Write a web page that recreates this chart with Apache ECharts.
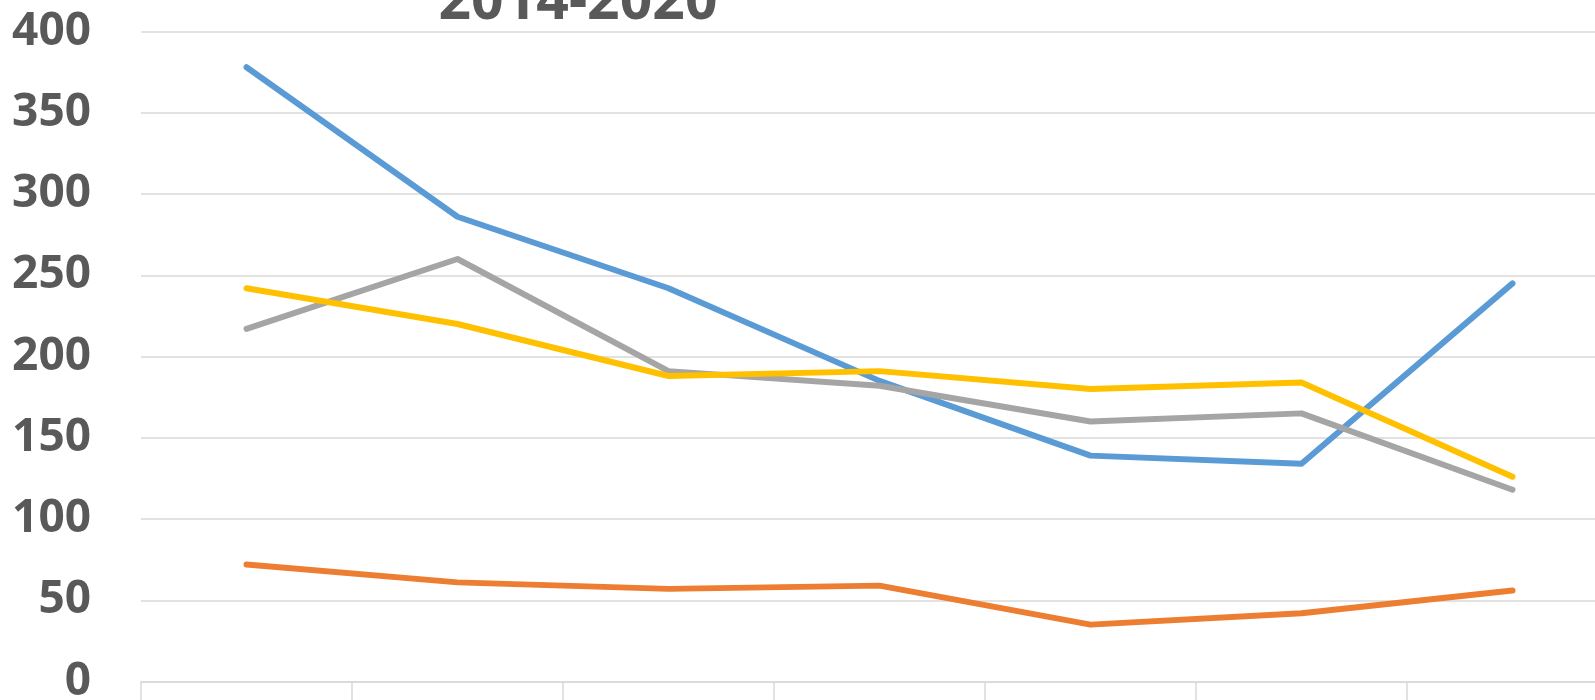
<!DOCTYPE html>
<html>
<head>
<meta charset="utf-8">
<title>2014-2020</title>
<script src="https://cdn.jsdelivr.net/npm/echarts@6/dist/echarts.min.js"></script>
<style>
  html, body { margin: 0; padding: 0; background: #fff; }
  #chart { width: 1595px; height: 700px; }
</style>
</head>
<body>
<div id="chart"></div>
<script>
// 数据
var years = ['2014', '2015', '2016', '2017', '2018', '2019', '2020'];
var blueData = [378, 286, 242, 185, 139, 134, 245];
var orangeData = [72, 61, 57, 59, 35, 42, 56];
var grayData = [217, 260, 191, 182, 160, 165, 118];
var yellowData = [242, 220, 188, 191, 180, 184, 126];
var yTicks = [0, 50, 100, 150, 200, 250, 300, 350, 400];

var myChart = echarts.init(document.getElementById('chart'));

function lineSeries(name, data, color) {
  return {
    name: name,
    type: 'line',
    data: data,
    symbol: 'none',
    smooth: false,
    lineStyle: { color: color, width: 6, cap: 'round', join: 'round' },
    itemStyle: { color: color }
  };
}

var option = {
  animation: false,
  title: {
    text: '2014-2020',
    left: 573,
    textAlign: 'center',
    top: -31,
    textStyle: {
      fontFamily: 'Noto Sans',
      fontWeight: 'bold',
      fontSize: 57,
      color: '#595959'
    }
  },
  grid: {
    left: 141,
    top: 31.5,
    width: 1477,
    bottom: 18.5,
    containLabel: false,
    outerBoundsMode: 'none'
  },
  xAxis: {
    type: 'category',
    data: years,
    boundaryGap: true,
    axisLine: { show: true, lineStyle: { color: '#d9d9d9', width: 1.5 } },
    axisTick: { show: true, length: 20, lineStyle: { color: '#d9d9d9', width: 1.5 } },
    axisLabel: { show: false }
  },
  yAxis: {
    type: 'value',
    min: yTicks[0],
    max: yTicks[yTicks.length - 1],
    interval: 50,
    axisLine: { show: false },
    axisTick: { show: false },
    splitLine: { lineStyle: { color: '#d9d9d9', width: 1.5 } },
    axisLabel: {
      margin: 50,
      fontFamily: 'Noto Sans',
      fontWeight: 'bold',
      fontSize: 46,
      color: '#595959'
    }
  },
  series: [
    lineSeries('系列1', blueData, '#5b9bd5'),
    lineSeries('系列2', orangeData, '#ed7d31'),
    lineSeries('系列3', grayData, '#a5a5a5'),
    lineSeries('系列4', yellowData, '#ffc000')
  ]
};
// 把配置给实例对象
myChart.setOption(option);
</script>
</body>
</html>
